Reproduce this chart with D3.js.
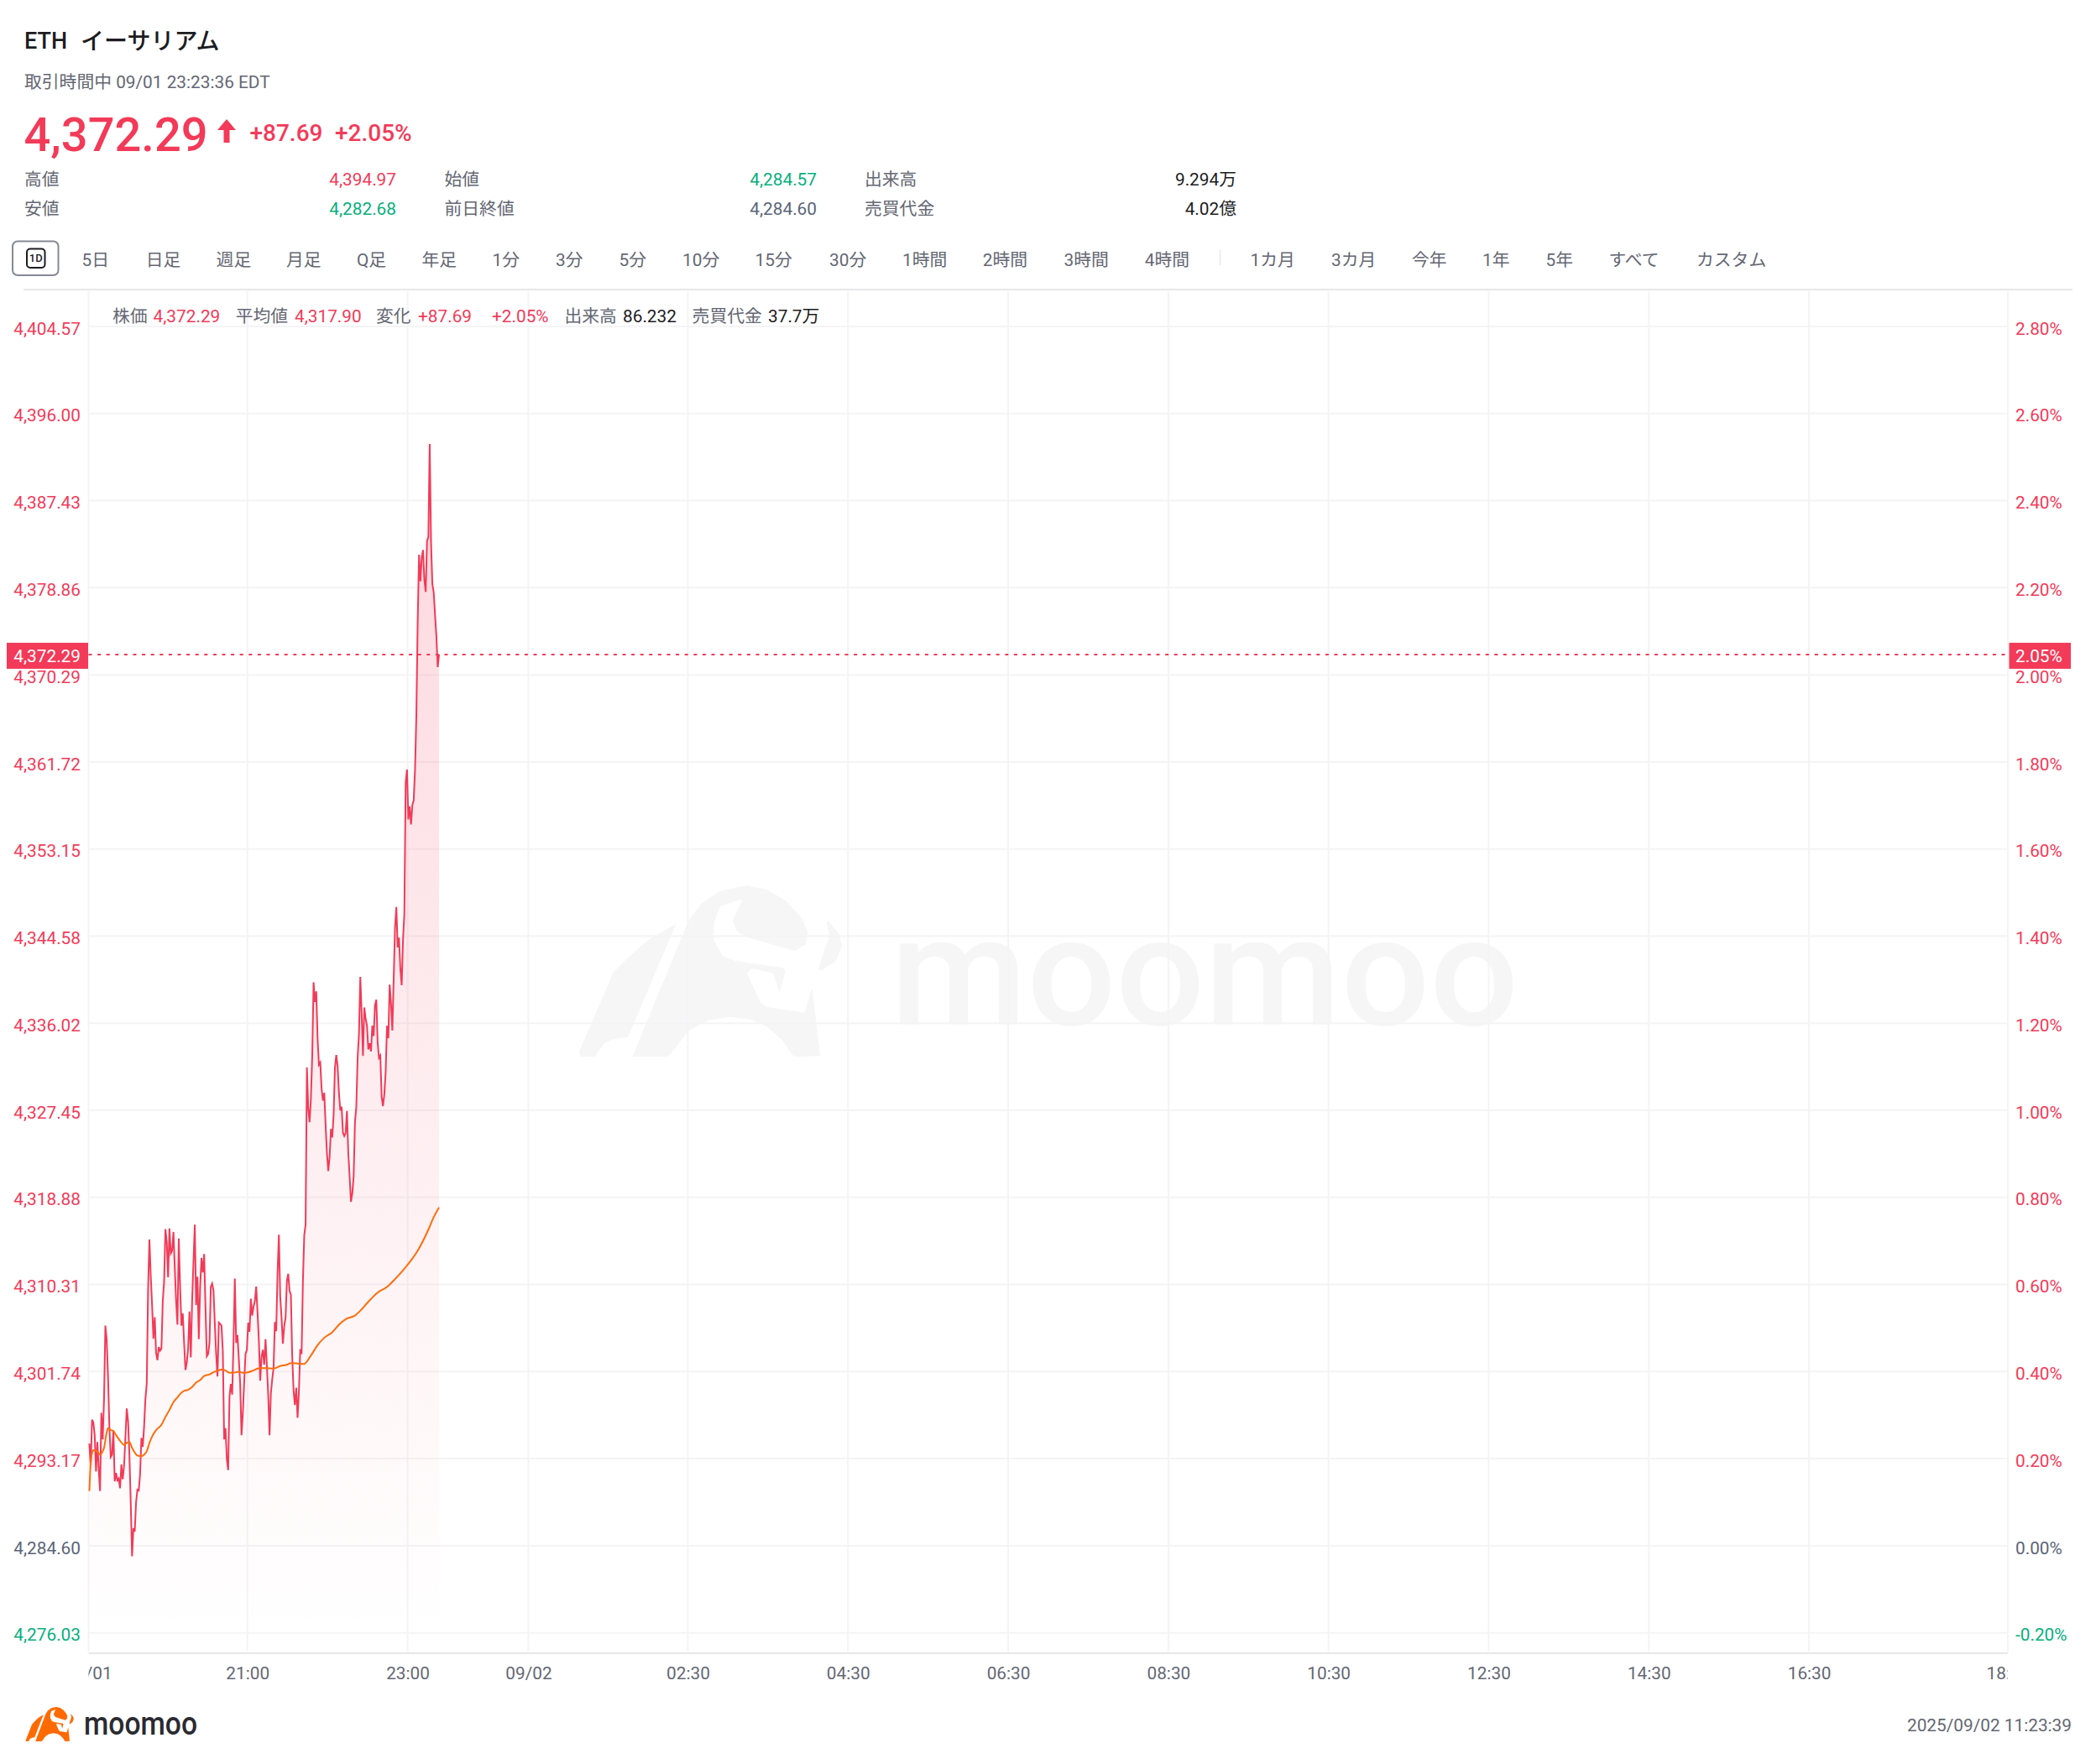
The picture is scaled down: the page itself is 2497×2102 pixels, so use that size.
<!DOCTYPE html>
<html><head><meta charset="utf-8">
<style>html,body{margin:0;padding:0;background:#fff;overflow:hidden}svg{display:block}text{font-family:Roboto,"Noto Sans CJK JP",sans-serif}</style>
<script src="https://d3js.org/d3.v7.min.js"></script></head><body>
<svg id="c" width="2497" height="2102"></svg>
<script>
// ---------- data ----------
const priceStartMinute = 1141.6; // 09/01 19:01:36, one value per minute
const prices = [4294.66,4292.46,4297.00,4296.72,4295.48,4291.91,4294.80,4292.18,4289.98,4297.68,4295.07,4299.06,4306.26,4304.83,4301.26,4296.31,4293.34,4293.56,4295.90,4290.94,4291.77,4291.03,4291.22,4290.26,4292.59,4291.14,4292.46,4295.21,4298.10,4296.86,4293.56,4288.88,4283.57,4286.35,4285.99,4288.88,4290.12,4290.04,4291.63,4295.21,4294.33,4296.31,4299.06,4300.57,4309.78,4314.73,4311.16,4308.27,4304.97,4307.09,4303.60,4302.85,4304.15,4303.79,4304.01,4308.68,4310.61,4315.75,4314.46,4311.02,4315.83,4313.36,4313.63,4315.48,4311.98,4308.68,4306.35,4314.84,4310.06,4306.26,4307.45,4304.56,4301.89,4302.63,4304.01,4307.64,4303.13,4308.68,4312.53,4316.19,4308.27,4311.08,4304.92,4310.06,4312.92,4311.49,4313.30,4308.13,4303.24,4303.46,4304.56,4310.06,4310.39,4309.73,4306.48,4303.46,4301.26,4306.57,4306.43,4306.26,4303.73,4295.07,4296.17,4293.14,4292.04,4299.33,4300.52,4299.47,4304.56,4310.88,4304.56,4305.33,4302.91,4300.57,4295.48,4297.68,4300.71,4303.46,4303.87,4306.54,4305.66,4308.90,4307.25,4308.13,4308.68,4310.11,4307.58,4304.83,4300.85,
4303.18,4303.87,4302.41,4304.92,4302.36,4299.47,4295.48,4299.61,4300.98,4302.08,4306.62,4305.71,4311.43,4315.20,4309.10,4307.03,4304.48,4306.21,4307.03,4310.66,4311.35,4309.70,4309.29,4303.18,4299.88,4298.45,4300.16,4297.19,4299.75,4303.95,4303.46,4310.61,4315.15,4316.16,
4331.65,4327.66,4326.28,4328.62,4332.88,4340.03,4338.11,4339.15,4334.53,4331.92,4332.14,4329.58,4328.40,4329.17,4326.01,4323.26,4321.47,4322.85,4325.60,4324.77,4326.97,4331.65,4332.88,4331.78,4329.17,4327.44,4327.80,4325.24,4324.91,4325.18,4327.38,4323.26,4320.92,4318.44,4319.27,4320.92,4326.28,4327.80,4332.61,4334.95,4340.58,4337.01,4332.80,4337.56,4336.46,4335.77,4333.43,4334.04,4333.24,4335.77,4334.75,4337.78,4338.33,4334.12,4332.61,4332.83,4328.76,4327.85,4329.03,4331.23,4335.77,4334.53,4339.81,4337.97,4335.30,4340.31,
4345.39,4347.45,4343.47,4344.43,4341.40,4339.75,4344.29,4346.77,4359.69,4360.98,4356.06,4357.35,4355.57,4357.49,4357.96,4360.93,
4366.29,4375.51,4382.11,4379.50,4381.83,4382.58,4379.63,4378.45,4383.43,4383.90,4393.00,4383.35,4379.22,4378.40,4376.20,4374.13,4371.05,4372.29];
const avgOffsets = [0,1,2,3,5,7,8,10,11,13,14,16,18,20,23,26,28,30,32,34,36,39,41,43,45,47,50,54,57,60,63,66,68,71,74,77,80,83,86,90,93,97,100,103,105,108,112,115,119,123,126,128,132,138,143,148,151,157,161,166,171,176,182,187,193,199,203,208,216,223,229,236,246,254,258,262];
const avgValues = [4289.98,4292.73,4293.70,4294.00,4293.97,4293.70,4293.56,4293.89,4294.24,4295.76,4296.17,4295.98,4295.90,4295.48,4294.93,4294.52,4294.71,4294.79,4294.24,4293.78,4293.47,4293.42,4293.56,4293.89,4294.71,4295.34,4295.98,4296.50,4297.27,4297.96,4298.73,4299.20,4299.53,4299.83,4299.94,4300.21,4300.65,4300.90,4301.31,4301.45,4301.67,4301.86,4301.95,4301.75,4301.62,4301.62,4301.73,4301.62,4301.67,4301.86,4302.03,4302.08,4302.08,4302.03,4302.28,4302.41,4302.58,4302.52,4302.50,4303.32,4304.34,4305.06,4305.60,4306.35,4306.95,4307.25,4307.72,4308.46,4309.51,4310.06,4310.83,4311.85,4313.63,4315.70,4316.93,4317.90];
const lastPrice = 4372.29, prevClose = 4284.60;
const yTickLabels = ["4,404.57","4,396.00","4,387.43","4,378.86","4,370.29","4,361.72","4,353.15","4,344.58","4,336.02","4,327.45","4,318.88","4,310.31","4,301.74","4,293.17","4,284.60","4,276.03"];
const pctTicks = [2.8,2.6,2.4,2.2,2.0,1.8,1.6,1.4,1.2,1.0,0.8,0.6,0.4,0.2,0,-0.2];
const xTickMinutes = [1141,1260,1380,1470.5,1590,1710,1830,1950,2070,2190,2310,2430,2579];
const xTickLabels = ["09/01","21:00","23:00","09/02","02:30","04:30","06:30","08:30","10:30","12:30","14:30","16:30","18:59"];
const tabLabels = ["5日","日足","週足","月足","Q足","年足","1分","3分","5分","10分","15分","30分","1時間","2時間","3時間","4時間","1カ月","3カ月","今年","1年","5年","すべて","カスタム"];
const statLabels = ["高値","安値","始値","前日終値","出来高","売買代金"];
const statValues = ["4,394.97","4,282.68","4,284.57","4,284.60","9.294万","4.02億"];
const infoTexts = ["株価","4,372.29","平均値","4,317.90","変化","+87.69","+2.05%","出来高","86.232","売買代金","37.7万"];

// ---------- layout / style ----------
const RED="#f33a58", GREEN="#05b07c", GRAY="#646773", SLATE="#5a6478", INK="#1c1c22", ORANGE="#ff6d0a", GRID="#f4f4f6", RULE="#e7e7ea";
const L=105.5,R=2392,T=389,B=1945.7;
const tabX=[97.5,173.8,257.6,341,425,502.4,586.5,662,737.6,813,899.5,988,1075,1170.7,1267.5,1363.7,1489.5,1586,1682,1766,1841.5,1916.5,2021];
const svg=d3.select("#c");
const FS=20.8;
const txt=(g,x,y,s,o={})=>g.append("text").attr("x",x).attr("y",y).attr("dy","0.36em").text(s)
  .attr("fill",o.fill||GRAY).attr("font-size",o.size||FS).attr("font-weight",o.weight||400).attr("text-anchor",o.anchor||"start");

const x=d3.scaleLinear().domain([xTickMinutes[0],xTickMinutes[xTickMinutes.length-1]]).range([L,R]);
const parseP=s=>+s.replace(",","");
const y=d3.scaleLinear().domain([parseP(yTickLabels[15]),parseP(yTickLabels[0])]).range([B,T]);
const yPct=d3.scaleLinear().domain([pctTicks[15],pctTicks[0]]).range([B,T]);

const defs=svg.append("defs");
const grad=defs.append("linearGradient").attr("id","fill").attr("gradientUnits","userSpaceOnUse")
  .attr("x1",0).attr("x2",0).attr("y1",y(d3.max(prices))).attr("y2",B);
grad.append("stop").attr("offset",0).attr("stop-color",RED).attr("stop-opacity",0.2);
grad.append("stop").attr("offset",1).attr("stop-color",RED).attr("stop-opacity",0.0);
defs.append("clipPath").attr("id","xclip").append("rect").attr("x",L).attr("y",1975).attr("width",R-L).attr("height",40);

// watermark + brand logo
const bull=[
 "M195,212L150,270L120,330L95,385L40,670L42,688L65,688L80,640L95,625L118,618Z",
 "M125,688L215,200L235,140L265,95L308,75L340,90L370,130L395,190L405,240L402,285L385,310L310,262L292,240L285,200L300,130L298,125L265,150L255,210L255,270L270,330L290,345L365,370L370,380L360,460L350,390L315,372L308,390L330,495L340,510L400,530L412,440L425,685L385,688L380,680L365,630L340,580L315,555L280,545L245,558L215,595L185,680L180,688Z",
 "M437,200L455,250L460,290L450,345L425,382L422,375L433,295L440,260L435,210Z"];
const wm=svg.append("g").attr("transform","translate(660,1030) scale(0.7463,0.3333)");
bull.forEach(d=>wm.append("path").attr("d",d).attr("fill","#f6f6f6"));
svg.append("text").attr("x",1061).attr("y",1221).text("moomoo").attr("font-size",182).attr("font-weight",500)
  .attr("textLength",748).attr("lengthAdjust","spacingAndGlyphs").attr("fill","#f6f6f6");

// header
txt(svg,29,48.5,"ETH",{fill:INK,size:27,weight:500});
txt(svg,96,48.5,"イーサリアム",{fill:INK,size:28,weight:500});
txt(svg,29,97.5,"取引時間中 09/01 23:23:36 EDT",{size:20.8});
txt(svg,28.5,160,"4,372.29",{fill:RED,size:56,weight:500});
svg.append("path").attr("d","M270,142L281,155L273.5,155L273.5,170L266.5,170L266.5,155L259,155Z").attr("fill",RED);
txt(svg,297.5,158,"+87.69",{fill:RED,size:28,weight:500});
txt(svg,399,158,"+2.05%",{fill:RED,size:28,weight:500});

const statLX=[29,29,529.5,529.5,1030,1030], statVX=[472,472,973,973,1473,1473], statY=[214,249,214,249,214,249];
const statCol=[RED,GREEN,GREEN,SLATE,INK,INK];
statLabels.forEach((s,i)=>{txt(svg,statLX[i],statY[i],s);txt(svg,statVX[i],statY[i],statValues[i],{fill:statCol[i],anchor:"end"});});

// tabs
svg.append("rect").attr("x",15).attr("y",287.5).attr("width",54.5).attr("height",40.5).attr("rx",6).attr("fill","#fff").attr("stroke","#858996").attr("stroke-width",2);
svg.append("rect").attr("x",32).attr("y",296.5).attr("width",21.5).attr("height",22.5).attr("rx",4).attr("fill","none").attr("stroke",INK).attr("stroke-width",2);
txt(svg,42.8,307.5,"1D",{fill:INK,size:13,weight:500,anchor:"middle"});
tabLabels.forEach((s,i)=>txt(svg,tabX[i],309.5,s));
svg.append("line").attr("x1",1453.6).attr("x2",1453.6).attr("y1",298).attr("y2",316).attr("stroke",RULE).attr("stroke-width",1.5);
svg.append("line").attr("x1",28).attr("x2",2469).attr("y1",345).attr("y2",345).attr("stroke",RULE).attr("stroke-width",2);

// grid
svg.append("g").selectAll("line").data(yTickLabels).join("line")
  .attr("x1",L).attr("x2",R).attr("y1",d=>y(parseP(d))).attr("y2",d=>y(parseP(d))).attr("stroke",GRID).attr("stroke-width",2);
svg.append("g").selectAll("line").data(xTickMinutes).join("line")
  .attr("x1",d=>x(d)).attr("x2",d=>x(d)).attr("y1",347).attr("y2",1968).attr("stroke",GRID).attr("stroke-width",2);
svg.append("line").attr("x1",L).attr("x2",R).attr("y1",1970).attr("y2",1970).attr("stroke",RULE).attr("stroke-width",2);

// series
const series=prices.map((p,i)=>({m:priceStartMinute+i,p}));
svg.append("path").datum(series).attr("fill","url(#fill)")
  .attr("d",d3.area().x(d=>x(d.m)).y0(B).y1(d=>y(d.p)));
svg.append("path").datum(series).attr("fill","none").attr("stroke",RED).attr("stroke-width",2).attr("stroke-linejoin","miter")
  .attr("d",d3.line().x(d=>x(d.m)).y(d=>y(d.p)));
svg.append("path").datum(avgOffsets.map((o,i)=>({m:priceStartMinute+o,p:avgValues[i]}))).attr("fill","none").attr("stroke",ORANGE).attr("stroke-width",2)
  .attr("d",d3.line().curve(d3.curveMonotoneX).x(d=>x(d.m)).y(d=>y(d.p)));

// y axes
const styleAxis=(g)=>{g.attr("font-family",null);g.select(".domain").remove();g.selectAll("line").remove();g.selectAll("text").attr("font-size",FS);};
const yL=svg.append("g").attr("transform","translate(96,2.5)")
  .call(d3.axisLeft(y).tickValues(yTickLabels.map(parseP)).tickFormat((d,i)=>yTickLabels[i]).tickSize(0).tickPadding(0)).call(styleAxis);
yL.selectAll("text").attr("fill",(d,i)=>i===14?SLATE:i===15?GREEN:RED);
const yRA=svg.append("g").attr("transform","translate(2401,2.5)")
  .call(d3.axisRight(yPct).tickValues(pctTicks).tickFormat(d=>d.toFixed(2)+"%").tickSize(0).tickPadding(0)).call(styleAxis);
yRA.selectAll("text").attr("fill",(d,i)=>i===14?SLATE:i===15?GREEN:RED);

// x axis
const xg=svg.append("g").attr("clip-path","url(#xclip)").append("g").attr("transform","translate(0,1986)")
  .call(d3.axisBottom(x).tickValues(xTickMinutes).tickFormat((d,i)=>xTickLabels[i]).tickSize(0).tickPadding(0)).call(styleAxis);
xg.selectAll("text").attr("fill",GRAY).attr("dy","0.71em").attr("y",0);

// last price guide + tags
const yLast=y(lastPrice);
svg.append("line").attr("x1",L).attr("x2",R).attr("y1",yLast).attr("y2",yLast).attr("stroke",RED).attr("stroke-width",2).attr("stroke-dasharray","4 6.6");
svg.append("rect").attr("x",8).attr("y",yLast-14).attr("width",97).attr("height",31).attr("fill",RED);
txt(svg,96,yLast+2,d3.format(",.2f")(lastPrice),{fill:"#fff",anchor:"end"});
svg.append("rect").attr("x",2393.5).attr("y",yLast-14).attr("width",73.5).attr("height",31).attr("fill",RED);
txt(svg,2401,yLast+2,d3.format(".2f")((lastPrice-prevClose)/prevClose*100)+"%",{fill:"#fff"});

// info bar
const infoX=[134,182.6,280.7,351,448,498,586,672.5,742,824.6,915];
const infoCol=[GRAY,RED,GRAY,RED,GRAY,RED,RED,GRAY,INK,GRAY,INK];
infoTexts.forEach((s,i)=>txt(svg,infoX[i],376.7,s,{fill:infoCol[i]}));

// footer
const lg=svg.append("g").attr("transform","translate(25.15,2029) scale(0.1362,0.0667)");
bull.forEach(d=>lg.append("path").attr("d",d).attr("fill","#ff6a00"));
svg.append("text").attr("x",100).attr("y",2067).text("moomoo").attr("font-size",38).attr("font-weight",500)
  .attr("textLength",135).attr("lengthAdjust","spacingAndGlyphs").attr("fill","#2b2b30");
txt(svg,2468,2056,"2025/09/02 11:23:39",{anchor:"end"});
</script></body></html>
